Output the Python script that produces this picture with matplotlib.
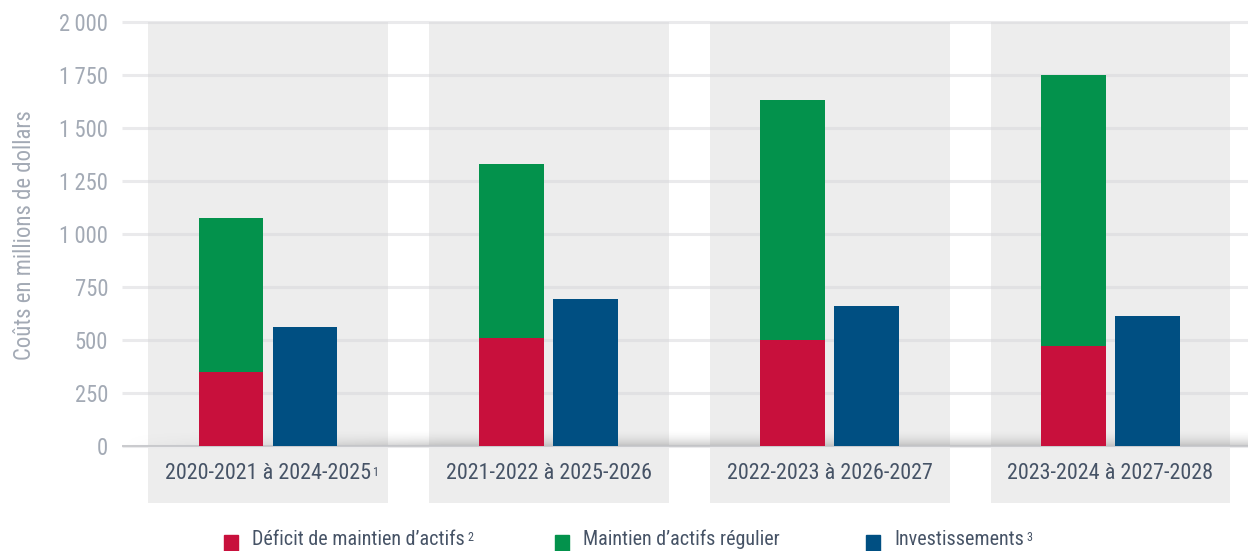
import numpy as np
import matplotlib.pyplot as plt
from matplotlib import font_manager
from matplotlib.font_manager import FontProperties
from matplotlib.textpath import TextPath

# données (millions de dollars)
categories = ["2020-2021 à 2024-2025", "2021-2022 à 2025-2026",
              "2022-2023 à 2026-2027", "2023-2024 à 2027-2028"]
cat_notes = ["1", "", "", ""]
deficit = [350, 510, 501, 473]
regulier = [725, 820, 1131, 1277]
invest = [561, 693, 660, 613]
yticks = [0, 250, 500, 750, 1000, 1250, 1500, 1750, 2000]
ytick_labels = ["0", "250", "500", "750", "1\u2009000", "1\u2009250", "1\u2009500", "1\u2009750", "2\u2009000"]
legend_labels = ["Déficit de maintien d\u2019actifs", "Maintien d\u2019actifs régulier", "Investissements"]
legend_notes = ["2", "", "3"]

RED = "#c8103c"
GREEN = "#03924c"
BLUE = "#004f82"
BAND = "#ededed"
TICK_C = "#a3aab5"
LABEL_C = "#465366"


# police étroite si disponible
def pick_font():
    cands = []
    for f in font_manager.fontManager.ttflist:
        n = f.name + " " + f.fname
        narrow = ("Narrow" in n or "Condensed" in n or "condensed" in str(f.stretch))
        if narrow and f.style == "normal" and f.weight in (400, "normal", "regular", "book"):
            if "Bold" in f.fname or "Italic" in f.fname or "Oblique" in f.fname or "Light" in f.fname:
                continue
            cands.append(f)
    prefs = ["Liberation Sans Narrow", "Roboto Condensed", "Open Sans Condensed", "Noto Sans",
             "DejaVu Sans"]
    for p in prefs:
        for f in cands:
            if p in f.name:
                return FontProperties(fname=f.fname)
    if cands:
        return FontProperties(fname=cands[0].fname)
    return FontProperties(family="DejaVu Sans")


FP = pick_font()


def size_for(text, px):
    w = TextPath((0, 0), text, size=10, prop=FP).get_extents().width
    return 10 * px / (w * 100 / 72)


cat_size = size_for(categories[0], 205)
tick_size = size_for("1\u2009750", 46)
ylab_size = size_for("Coûts en millions de dollars", 247)
leg_size = size_for(legend_labels[0], 211)

fig = plt.figure(figsize=(12.48, 5.51), dpi=100)
ax = fig.add_axes([122 / 1248, 1 - 503 / 551, 1 - 122 / 1248, 481 / 551])

x = np.arange(len(categories))
band_w = 0.854
bar_w = 0.231
off = 0.1317

ax.set_xlim(-0.52, 3.49)
ax.set_ylim(-270, 2000)

# fonds gris
ax.bar(x, 2000, width=band_w, color=BAND, zorder=0)
ax.bar(x, -258, bottom=-12, width=band_w, color=BAND, zorder=0)

# grille
for t in yticks:
    ax.plot([-0.52, 3.49], [t, t], color="#d6d6da", lw=2.2, alpha=0.5, zorder=1,
            solid_capstyle="butt", clip_on=False)

# ombre au pied des barres
grad = np.linspace(0, 1, 60).reshape(-1, 1) ** 2
horiz = np.clip(np.linspace(0, 3.5, 400), 0, 1).reshape(1, -1)
shadow = np.zeros((60, 400, 4))
shadow[..., :3] = 0.55
shadow[..., 3] = 0.45 * grad * horiz
ax.imshow(shadow, extent=[-0.52, 3.49, 0, 80], origin="upper", aspect="auto", zorder=1.5,
          interpolation="bilinear")
ax.plot([-0.52, 3.49], [0, 0], color="#c4c5c9", lw=1.2, zorder=1.6)

# barres
ax.bar(x - off, deficit, width=bar_w, color=RED, zorder=3)
ax.bar(x - off, regulier, bottom=deficit, width=bar_w, color=GREEN, zorder=3)
ax.bar(x + off, invest, width=bar_w, color=BLUE, zorder=3)

# axes
for s in ax.spines.values():
    s.set_visible(False)
ax.set_xticks([])
ax.set_yticks(yticks)
ax.set_yticklabels(ytick_labels, color=TICK_C, fontproperties=FP, fontsize=tick_size)
ax.tick_params(axis="y", length=0, pad=10)
ax.set_ylabel("Coûts en millions de dollars", color=TICK_C, fontproperties=FP, fontsize=ylab_size)
ax.yaxis.set_label_coords(-0.076, 0.557)

# étiquettes des catégories
for i, c in enumerate(categories):
    t = ax.text(x[i], -132, c, ha="center", va="center", fontproperties=FP, fontsize=cat_size,
                color=LABEL_C)
    if cat_notes[i]:
        ax.annotate(cat_notes[i], xy=(1, 1), xycoords=t, xytext=(1, -2), textcoords="offset points",
                    ha="left", va="top", fontproperties=FP, fontsize=cat_size * 0.55, color=LABEL_C)

# légende
leg_x = [224, 555, 866]
colors = [RED, GREEN, BLUE]
for lx, col, lab, note in zip(leg_x, colors, legend_labels, legend_notes):
    fig.patches.append(plt.Rectangle((lx / 1248, 0), 14 / 1248, 16 / 551, color=col,
                                     transform=fig.transFigure, figure=fig))
    t = fig.text((lx + 28) / 1248, 2 / 551, lab, ha="left", va="bottom", fontproperties=FP,
                 fontsize=leg_size, color=LABEL_C)
    if note:
        ax.annotate(note, xy=(1, 1), xycoords=t, xytext=(2, -1), textcoords="offset points",
                    ha="left", va="top", fontproperties=FP, fontsize=leg_size * 0.6, color=LABEL_C,
                    annotation_clip=False)

fig.savefig("out.png", dpi=100)
